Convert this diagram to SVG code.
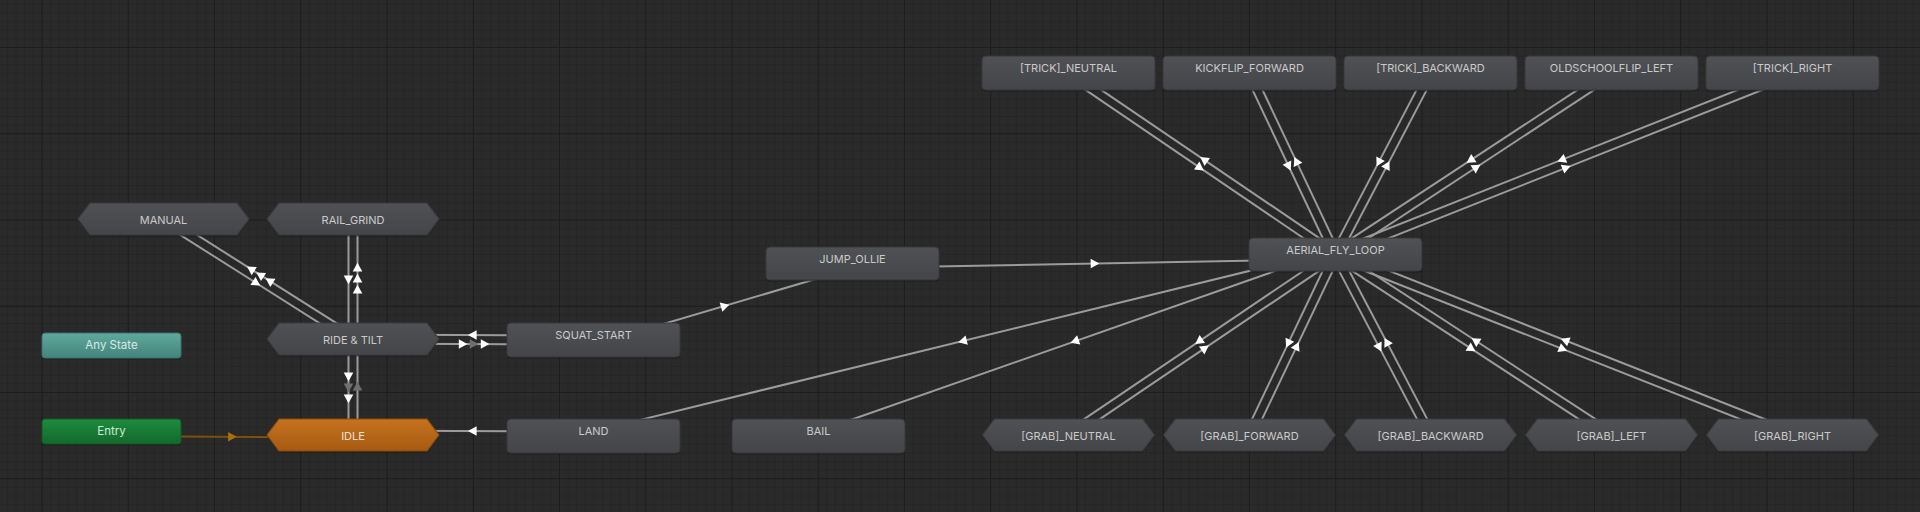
<svg xmlns="http://www.w3.org/2000/svg" xmlns:xlink="http://www.w3.org/1999/xlink" width="1920" height="512" viewBox="0 0 1920 512">
<defs>
<style>
.t{font-family:Inter,"Noto Sans","Liberation Sans",sans-serif;font-size:11px;fill:#cacaca;text-anchor:middle}
.ts{font-size:11.5px}
.node{fill:url(#gGray);stroke:#38393c;stroke-width:1}
.hex{fill:url(#gGray);stroke:#3b3c3f;stroke-width:1.2;stroke-linejoin:round}
.sh{fill:#161616;opacity:.55}
.ln{stroke:#9b9b9b;stroke-width:2;fill:none}
.lno{stroke:#7a520f;stroke-width:2;fill:none}
.aw{fill:#ffffff}
.ag{fill:#6f6f6f}
.ao{fill:#a8700c}
</style>
<linearGradient id="gGray" x1="0" y1="0" x2="0" y2="1">
<stop offset="0" stop-color="#505155"/><stop offset="1" stop-color="#444548"/>
</linearGradient>
<linearGradient id="gOrange" x1="0" y1="0" x2="0" y2="1">
<stop offset="0" stop-color="#c6731f"/><stop offset="1" stop-color="#a65a12"/>
</linearGradient>
<linearGradient id="gTeal" x1="0" y1="0" x2="0" y2="1">
<stop offset="0" stop-color="#60a99e"/><stop offset="1" stop-color="#428479"/>
</linearGradient>
<linearGradient id="gGreen" x1="0" y1="0" x2="0" y2="1">
<stop offset="0" stop-color="#1d8c3d"/><stop offset="1" stop-color="#13692c"/>
</linearGradient>
<pattern id="minor" patternUnits="userSpaceOnUse" x="41.5" y="47" width="8.625" height="8.625">
<rect width="1" height="8.625" fill="#252525"/><rect width="8.625" height="1" fill="#252525"/>
</pattern>
<pattern id="major" patternUnits="userSpaceOnUse" x="41.5" y="47" width="86.25" height="86.25">
<rect width="1" height="86.25" fill="#1d1d1d"/><rect width="86.25" height="1" fill="#1d1d1d"/>
</pattern>
<path id="ah" d="M5.2,0 L-3.4,-4.8 L-3.4,4.8 Z"/>
</defs>

<rect width="1920" height="512" fill="#2a2a2a"/>
<rect width="1920" height="512" fill="url(#minor)"/>
<rect width="1920" height="512" fill="url(#major)"/>

<g id="connectors">
<line class="ln" x1="161.1" y1="222.8" x2="350.6" y2="342.8"/>
<line class="ln" x1="355.4" y1="335.2" x2="165.9" y2="215.2"/>
<line class="ln" x1="348.5" y1="219" x2="348.5" y2="339"/>
<line class="ln" x1="357.5" y1="339" x2="357.5" y2="219"/>
<line class="ln" x1="353" y1="343.5" x2="593.5" y2="344.5"/>
<line class="ln" x1="593.5" y1="335.5" x2="353" y2="334.5"/>
<line class="ln" x1="348.5" y1="339" x2="348.5" y2="435"/>
<line class="ln" x1="357.5" y1="435" x2="357.5" y2="339"/>
<line class="lno" x1="111.5" y1="436" x2="353" y2="437.5"/>
<line class="ln" x1="593.5" y1="431.5" x2="353" y2="430.5"/>
<line class="ln" x1="594.8" y1="344.3" x2="853.8" y2="267.8"/>
<line class="ln" x1="852.6" y1="268" x2="1335.6" y2="259"/>
<line class="ln" x1="1334.4" y1="250.1" x2="592.4" y2="431.6"/>
<line class="ln" x1="1334.0" y1="250.3" x2="817.0" y2="431.8"/>
<line class="ln" x1="1066.0" y1="76.7" x2="1333.0" y2="258.2"/>
<line class="ln" x1="1338.0" y1="250.8" x2="1071.0" y2="69.3"/>
<line class="ln" x1="1245.4" y1="74.9" x2="1331.4" y2="256.4"/>
<line class="ln" x1="1339.6" y1="252.6" x2="1253.6" y2="71.1"/>
<line class="ln" x1="1426.5" y1="70.9" x2="1331.5" y2="252.4"/>
<line class="ln" x1="1339.5" y1="256.6" x2="1434.5" y2="75.1"/>
<line class="ln" x1="1609.0" y1="69.2" x2="1333.0" y2="250.7"/>
<line class="ln" x1="1338.0" y1="258.3" x2="1614.0" y2="76.8"/>
<line class="ln" x1="1790.8" y1="68.8" x2="1333.8" y2="250.3"/>
<line class="ln" x1="1337.2" y1="258.7" x2="1794.2" y2="77.2"/>
<line class="ln" x1="1333.0" y1="250.8" x2="1066.0" y2="431.3"/>
<line class="ln" x1="1071.0" y1="438.7" x2="1338.0" y2="258.2"/>
<line class="ln" x1="1331.4" y1="252.6" x2="1245.4" y2="433.1"/>
<line class="ln" x1="1253.6" y1="436.9" x2="1339.6" y2="256.4"/>
<line class="ln" x1="1331.5" y1="256.6" x2="1426.5" y2="437.1"/>
<line class="ln" x1="1434.5" y1="432.9" x2="1339.5" y2="252.4"/>
<line class="ln" x1="1333.0" y1="258.3" x2="1609.0" y2="438.8"/>
<line class="ln" x1="1614.0" y1="431.2" x2="1338.0" y2="250.7"/>
<line class="ln" x1="1333.9" y1="258.7" x2="1790.9" y2="439.2"/>
<line class="ln" x1="1794.2" y1="430.8" x2="1337.2" y2="250.3"/>

<use href="#ah" class="aw" transform="translate(255.8,282.8) rotate(32.34)"/>
<use href="#ah" class="aw" transform="translate(251.4,269.3) rotate(212.34)"/>
<use href="#ah" class="aw" transform="translate(260.7,275.2) rotate(212.34)"/>
<use href="#ah" class="aw" transform="translate(270.0,281.1) rotate(212.34)"/>
<use href="#ah" class="aw" transform="translate(348.5,279) rotate(90)"/>
<use href="#ah" class="aw" transform="translate(357.5,268) rotate(-90)"/>
<use href="#ah" class="aw" transform="translate(357.5,279) rotate(-90)"/>
<use href="#ah" class="aw" transform="translate(357.5,290) rotate(-90)"/>
<use href="#ah" class="aw" transform="translate(462.2,344) rotate(0)"/>
<use href="#ah" class="ag" transform="translate(473.2,344) rotate(0)"/>
<use href="#ah" class="aw" transform="translate(484.2,344) rotate(0)"/>
<use href="#ah" class="aw" transform="translate(473.2,335) rotate(180)"/>
<use href="#ah" class="aw" transform="translate(348.5,376) rotate(90)"/>
<use href="#ah" class="ag" transform="translate(348.5,387) rotate(90)"/>
<use href="#ah" class="aw" transform="translate(348.5,398) rotate(90)"/>
<use href="#ah" class="ag" transform="translate(357.5,387) rotate(-90)"/>
<use href="#ah" class="ao" transform="translate(231.5,436.8) rotate(0.36)"/>
<use href="#ah" class="aw" transform="translate(473.2,431) rotate(180)"/>
<use href="#ah" class="aw" transform="translate(724.3,306.1) rotate(-16.46)"/>
<use href="#ah" class="aw" transform="translate(1094.1,263.5) rotate(-1.07)"/>
<use href="#ah" class="aw" transform="translate(963.4,340.9) rotate(166.26)"/>
<use href="#ah" class="aw" transform="translate(1075.5,341.0) rotate(160.65)"/>
<use href="#ah" class="aw" transform="translate(1199.5,167.5) rotate(34.21)"/>
<use href="#ah" class="aw" transform="translate(1204.5,160.0) rotate(214.21)"/>
<use href="#ah" class="aw" transform="translate(1288.4,165.7) rotate(64.64)"/>
<use href="#ah" class="aw" transform="translate(1296.6,161.8) rotate(244.64)"/>
<use href="#ah" class="aw" transform="translate(1379.0,161.7) rotate(117.63)"/>
<use href="#ah" class="aw" transform="translate(1387.0,165.8) rotate(297.63)"/>
<use href="#ah" class="aw" transform="translate(1471.0,160.0) rotate(146.67)"/>
<use href="#ah" class="aw" transform="translate(1476.0,167.5) rotate(326.67)"/>
<use href="#ah" class="aw" transform="translate(1562.3,159.6) rotate(158.34)"/>
<use href="#ah" class="aw" transform="translate(1565.7,167.9) rotate(338.34)"/>
<use href="#ah" class="aw" transform="translate(1199.5,341.0) rotate(145.94)"/>
<use href="#ah" class="aw" transform="translate(1204.5,348.5) rotate(325.94)"/>
<use href="#ah" class="aw" transform="translate(1288.4,342.8) rotate(115.47)"/>
<use href="#ah" class="aw" transform="translate(1296.6,346.7) rotate(295.47)"/>
<use href="#ah" class="aw" transform="translate(1379.0,346.8) rotate(62.24)"/>
<use href="#ah" class="aw" transform="translate(1387.0,342.6) rotate(242.24)"/>
<use href="#ah" class="aw" transform="translate(1471.0,348.5) rotate(33.18)"/>
<use href="#ah" class="aw" transform="translate(1476.0,341.0) rotate(213.18)"/>
<use href="#ah" class="aw" transform="translate(1562.3,348.9) rotate(21.55)"/>
<use href="#ah" class="aw" transform="translate(1565.7,340.6) rotate(201.55)"/>
</g>

<g id="any-state">
<rect class="sh" x="42" y="334.5" width="139" height="25" rx="3"/>
<rect x="42" y="333" width="139" height="25" rx="3" fill="url(#gTeal)" stroke="#3a7269" stroke-width="1"/>
<text class="t ts" x="111.5" y="349" style="fill:#d8e9e5">Any State</text>
</g>
<g id="entry">
<rect class="sh" x="42" y="420.5" width="139" height="25" rx="3"/>
<rect x="42" y="419" width="139" height="25" rx="3" fill="url(#gGreen)" stroke="#105a25" stroke-width="1"/>
<text class="t ts" x="111.5" y="435" style="fill:#d3e9d8">Entry</text>
</g>

<g id="manual">
<path class="sh" d="M78,220.5 L90,204.5 L237,204.5 L249,220.5 L237,236.5 L90,236.5 Z"/>
<path class="hex" d="M78,219 L90,203 L237,203 L249,219 L237,235 L90,235 Z"/>
<text class="t" x="163.5" y="224.3">MANUAL</text>
</g>
<g id="rail-grind">
<path class="sh" d="M267,220.5 L279,204.5 L427,204.5 L439,220.5 L427,236.5 L279,236.5 Z"/>
<path class="hex" d="M267,219 L279,203 L427,203 L439,219 L427,235 L279,235 Z"/>
<text class="t" x="353" y="224.3">RAIL_GRIND</text>
</g>
<g id="ride-tilt">
<path class="sh" d="M267,340.5 L279,324.5 L427,324.5 L439,340.5 L427,356.5 L279,356.5 Z"/>
<path class="hex" d="M267,339 L279,323 L427,323 L439,339 L427,355 L279,355 Z"/>
<text class="t" x="353" y="344.3">RIDE &amp; TILT</text>
</g>
<g id="idle">
<path class="sh" d="M267,436.5 L279,420.5 L427,420.5 L439,436.5 L427,452.5 L279,452.5 Z"/>
<path d="M267,435 L279,419 L427,419 L439,435 L427,451 L279,451 Z" fill="url(#gOrange)" stroke="#8e4c0d" stroke-width="1.2" stroke-linejoin="round"/>
<text class="t" x="353" y="440.3" style="fill:#efe2d4">IDLE</text>
</g>

<g id="squat-start">
<rect class="sh" x="507" y="324.5" width="173" height="34" rx="4"/>
<rect class="node" x="507" y="323" width="173" height="34" rx="4"/>
<text class="t" x="593.5" y="339.3">SQUAT_START</text>
</g>
<g id="jump-ollie">
<rect class="sh" x="766" y="248.5" width="173" height="33" rx="4"/>
<rect class="node" x="766" y="247" width="173" height="33" rx="4"/>
<text class="t" x="852.5" y="263">JUMP_OLLIE</text>
</g>
<g id="land">
<rect class="sh" x="507" y="420.5" width="173" height="34" rx="4"/>
<rect class="node" x="507" y="419" width="173" height="34" rx="4"/>
<text class="t" x="593.5" y="435.3">LAND</text>
</g>
<g id="bail">
<rect class="sh" x="732" y="420.5" width="173" height="34" rx="4"/>
<rect class="node" x="732" y="419" width="173" height="34" rx="4"/>
<text class="t" x="818.5" y="435.3">BAIL</text>
</g>
<g id="aerial-fly-loop">
<rect class="sh" x="1249" y="239.5" width="173" height="33" rx="4"/>
<rect class="node" x="1249" y="238" width="173" height="33" rx="4"/>
<text class="t" x="1335.5" y="254">AERIAL_FLY_LOOP</text>
</g>

<g id="trick-neutral">
<rect class="sh" x="982" y="57.5" width="173" height="34" rx="4"/>
<rect class="node" x="982" y="56" width="173" height="34" rx="4"/>
<text class="t" x="1068.5" y="72.3">[TRICK]_NEUTRAL</text>
</g>
<g id="kickflip-forward">
<rect class="sh" x="1163" y="57.5" width="173" height="34" rx="4"/>
<rect class="node" x="1163" y="56" width="173" height="34" rx="4"/>
<text class="t" x="1249.5" y="72.3">KICKFLIP_FORWARD</text>
</g>
<g id="trick-backward">
<rect class="sh" x="1344" y="57.5" width="173" height="34" rx="4"/>
<rect class="node" x="1344" y="56" width="173" height="34" rx="4"/>
<text class="t" x="1430.5" y="72.3">[TRICK]_BACKWARD</text>
</g>
<g id="oldschoolflip-left">
<rect class="sh" x="1525" y="57.5" width="173" height="34" rx="4"/>
<rect class="node" x="1525" y="56" width="173" height="34" rx="4"/>
<text class="t" x="1611.5" y="72.3">OLDSCHOOLFLIP_LEFT</text>
</g>
<g id="trick-right">
<rect class="sh" x="1706" y="57.5" width="173" height="34" rx="4"/>
<rect class="node" x="1706" y="56" width="173" height="34" rx="4"/>
<text class="t" x="1792.5" y="72.3">[TRICK]_RIGHT</text>
</g>

<g id="grab-neutral">
<path class="sh" d="M982.5,436.5 L994.5,420.5 L1142.5,420.5 L1154.5,436.5 L1142.5,452.5 L994.5,452.5 Z"/>
<path class="hex" d="M982.5,435 L994.5,419 L1142.5,419 L1154.5,435 L1142.5,451 L994.5,451 Z"/>
<text class="t" x="1068.5" y="440.3">[GRAB]_NEUTRAL</text>
</g>
<g id="grab-forward">
<path class="sh" d="M1163.5,436.5 L1175.5,420.5 L1323.5,420.5 L1335.5,436.5 L1323.5,452.5 L1175.5,452.5 Z"/>
<path class="hex" d="M1163.5,435 L1175.5,419 L1323.5,419 L1335.5,435 L1323.5,451 L1175.5,451 Z"/>
<text class="t" x="1249.5" y="440.3">[GRAB]_FORWARD</text>
</g>
<g id="grab-backward">
<path class="sh" d="M1344.5,436.5 L1356.5,420.5 L1504.5,420.5 L1516.5,436.5 L1504.5,452.5 L1356.5,452.5 Z"/>
<path class="hex" d="M1344.5,435 L1356.5,419 L1504.5,419 L1516.5,435 L1504.5,451 L1356.5,451 Z"/>
<text class="t" x="1430.5" y="440.3">[GRAB]_BACKWARD</text>
</g>
<g id="grab-left">
<path class="sh" d="M1525.5,436.5 L1537.5,420.5 L1685.5,420.5 L1697.5,436.5 L1685.5,452.5 L1537.5,452.5 Z"/>
<path class="hex" d="M1525.5,435 L1537.5,419 L1685.5,419 L1697.5,435 L1685.5,451 L1537.5,451 Z"/>
<text class="t" x="1611.5" y="440.3">[GRAB]_LEFT</text>
</g>
<g id="grab-right">
<path class="sh" d="M1706.5,436.5 L1718.5,420.5 L1866.5,420.5 L1878.5,436.5 L1866.5,452.5 L1718.5,452.5 Z"/>
<path class="hex" d="M1706.5,435 L1718.5,419 L1866.5,419 L1878.5,435 L1866.5,451 L1718.5,451 Z"/>
<text class="t" x="1792.5" y="440.3">[GRAB]_RIGHT</text>
</g>
</svg>
